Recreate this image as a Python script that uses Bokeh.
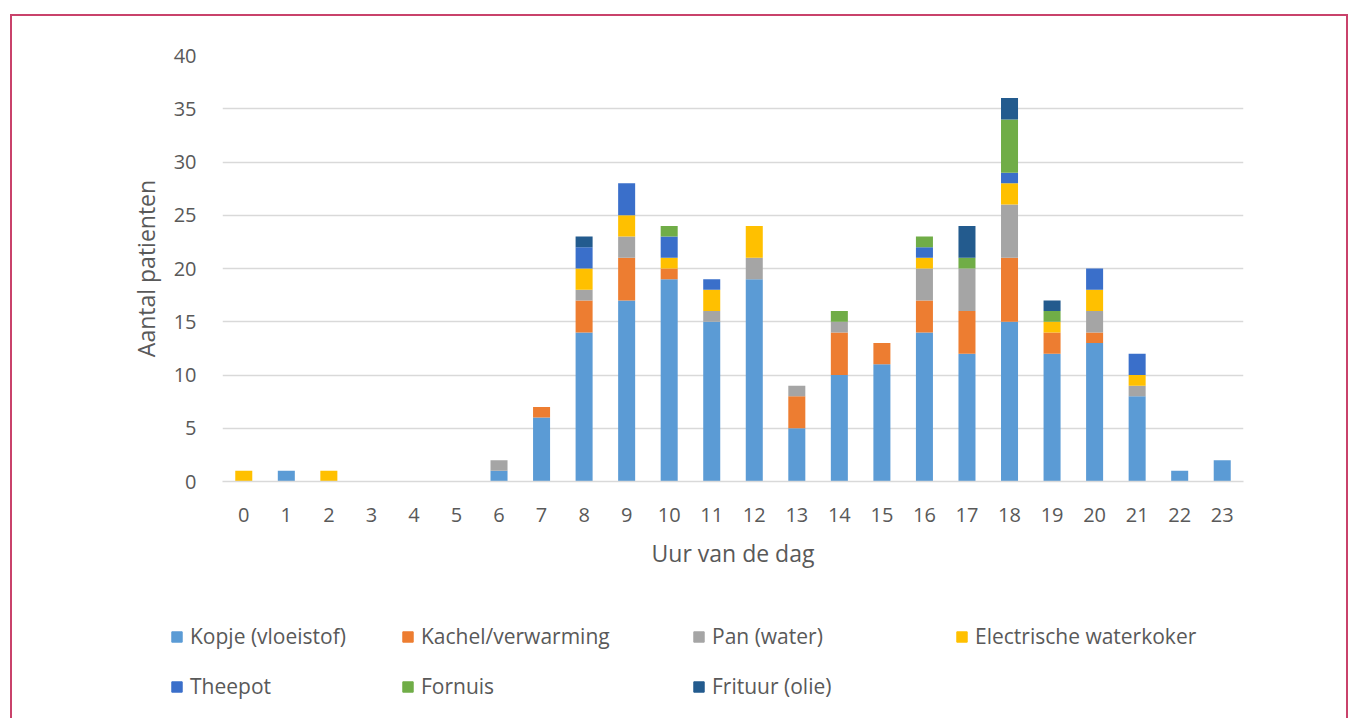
from bokeh.plotting import figure
from bokeh.models import ColumnDataSource, Legend, LegendItem, FixedTicker, Range1d, InlineStyleSheet
from bokeh.layouts import column, row
from bokeh.embed import file_html
from bokeh.resources import INLINE

hours = list(range(24))
hour_labels = [str(h) for h in hours]

kopje      = [0, 1, 0, 0, 0, 0, 1, 6, 14, 17, 19, 15, 19, 5, 10, 11, 14, 12, 15, 12, 13, 8, 1, 2]
kachel     = [0, 0, 0, 0, 0, 0, 0, 1, 3, 4, 1, 0, 0, 3, 4, 2, 3, 4, 6, 2, 1, 0, 0, 0]
pan        = [0, 0, 0, 0, 0, 0, 1, 0, 1, 2, 0, 1, 2, 1, 1, 0, 3, 4, 5, 0, 2, 1, 0, 0]
electric   = [1, 0, 1, 0, 0, 0, 0, 0, 2, 2, 1, 2, 3, 0, 0, 0, 1, 0, 2, 1, 2, 1, 0, 0]
theepot    = [0, 0, 0, 0, 0, 0, 0, 0, 2, 3, 2, 1, 0, 0, 0, 0, 1, 0, 1, 0, 2, 2, 0, 0]
fornuis    = [0, 0, 0, 0, 0, 0, 0, 0, 0, 0, 1, 0, 0, 0, 1, 0, 1, 1, 5, 1, 0, 0, 0, 0]
frituur    = [0, 0, 0, 0, 0, 0, 0, 0, 1, 0, 0, 0, 0, 0, 0, 0, 0, 3, 2, 1, 0, 0, 0, 0]

series_names = ["Kopje (vloeistof)", "Kachel/verwarming", "Pan (water)", "Electrische waterkoker",
                "Theepot", "Fornuis", "Frituur (olie)"]
series_keys = ["kopje", "kachel", "pan", "electric", "theepot", "fornuis", "frituur"]
colors = ["#5b9bd5", "#ed7d31", "#a5a5a5", "#ffc000", "#3a6fca", "#70ad47", "#235b8e"]

source = ColumnDataSource(data=dict(x=hours, kopje=kopje, kachel=kachel, pan=pan, electric=electric,
                                    theepot=theepot, fornuis=fornuis, frituur=frituur))

FONT = "Open Sans"
TXT = "#595959"

p = figure(width=1358, height=580, output_backend="svg", toolbar_location=None,
           x_range=Range1d(-0.5, 23.5), y_range=Range1d(0, 40),
           min_border_left=222, min_border_right=115, min_border_top=55, min_border_bottom=99)
p.outline_line_color = None
p.background_fill_alpha = 0
p.border_fill_alpha = 0

renderers = p.vbar_stack(series_keys, x="x", width=0.4, color=colors, source=source, line_width=0)

p.xaxis.ticker = FixedTicker(ticks=hours)
p.xaxis.major_label_overrides = {h: l for h, l in zip(hours, hour_labels)}
p.yaxis.ticker = FixedTicker(ticks=[0, 5, 10, 15, 20, 25, 30, 35, 40])

for ax in (p.xaxis[0], p.yaxis[0]):
    ax.major_tick_line_color = None
    ax.minor_tick_line_color = None
    ax.major_label_text_font = FONT
    ax.major_label_text_font_size = "20px"
    ax.major_label_text_color = TXT
    ax.axis_label_text_font = FONT
    ax.axis_label_text_font_size = "23px"
    ax.axis_label_text_font_style = "normal"
    ax.axis_label_text_color = TXT
    ax.major_label_standoff = 20

p.xaxis.axis_line_color = "#d9d9d9"
p.xaxis.axis_line_width = 1.5
p.yaxis.axis_line_color = None
p.xaxis.axis_label = "Uur van de dag"
p.yaxis.axis_label = "Aantal patienten"
p.xaxis.axis_label_standoff = 12
p.yaxis.axis_label_standoff = 9

p.xgrid.grid_line_color = None
p.ygrid.grid_line_color = "#d9d9d9"
p.ygrid.grid_line_width = 1.5

# legend figure below the chart
q = figure(width=1358, height=138, output_backend="svg", toolbar_location=None,
           x_range=Range1d(0, 1), y_range=Range1d(0, 1),
           min_border=0, min_border_left=0, min_border_right=0, min_border_top=0, min_border_bottom=0)
q.axis.visible = False
q.grid.visible = False
q.outline_line_color = None
q.background_fill_alpha = 0
q.border_fill_alpha = 0

# hidden stand-in renderers (outside the visible range) so the legend can draw its swatches
proxy = ColumnDataSource(data=dict(x=[-5], top=[0]))
col_x = [170, 401, 692, 955]
row_y = [68, 18]
for i, (name, c) in enumerate(zip(series_names, colors)):
    r = q.vbar(x="x", top="top", width=0.1, color=c, source=proxy)
    row_i, col_i = divmod(i, 4)
    leg = Legend(items=[LegendItem(label=name, renderers=[r])],
                 location=(col_x[col_i], row_y[row_i]),
                 glyph_width=13, glyph_height=13, label_standoff=7,
                 label_text_font=FONT, label_text_font_size="21px", label_text_color=TXT,
                 padding=0, margin=0, spacing=0, border_line_color=None,
                 background_fill_alpha=0, label_height=20)
    q.add_layout(leg, "center")

frame_css = InlineStyleSheet(css="""
:host { position: relative; }
:host::after {
  content: "";
  position: absolute;
  left: 10px; top: 14px; right: 10px; bottom: -40px;
  border: 2px solid #c9426b;
  pointer-events: none;
}
""")

layout = column(p, row(q), spacing=0, stylesheets=[frame_css])

open("out.html", "w").write(file_html(layout, INLINE))
